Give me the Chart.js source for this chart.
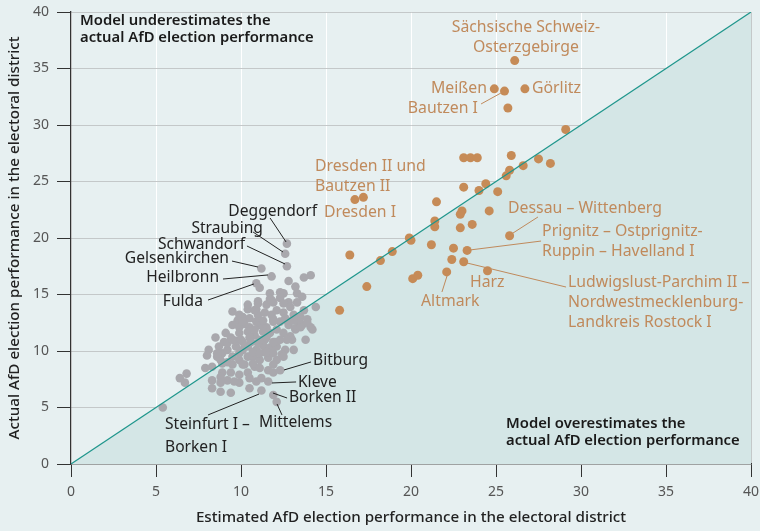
<!DOCTYPE html>
<html lang="en">
<head>
<meta charset="utf-8">
<title>AfD election performance: estimated vs actual</title>
<script src="https://cdn.jsdelivr.net/npm/chart.js"></script>
<style>
  html, body { margin: 0; padding: 0; background: #e7f0f1; }
  #wrap { width: 760px; height: 531px; }
</style>
</head>
<body>
<div id="wrap"><canvas id="afdChart" width="760" height="531"></canvas></div>
<script>
// West German districts (grey): estimated vs actual AfD share, %
const westEst = [12.7, 12.6, 12.7, 11.2, 11.8, 10.9, 11.1, 12.8, 13.7, 14.1, 11.7, 12.3, 12.5, 13.2, 13.3, 13.6, 11.0, 9.5, 10.4, 10.9,
  11.5, 11.9, 12.3, 12.8, 13.3, 13.7, 14.4, 9.8, 10.1, 10.5, 11.0, 11.4, 11.8, 12.5, 13.1, 13.5, 9.5, 9.9, 10.5, 11.1,
  11.5, 12.3, 12.8, 13.2, 13.6, 14.1, 14.2, 8.5, 9.1, 9.4, 9.9, 10.4, 10.8, 11.3, 11.7, 12.1, 12.5, 13.2, 13.8, 13.0,
  12.3, 8.1, 8.7, 8.9, 9.2, 9.7, 10.1, 10.4, 10.9, 11.3, 11.7, 12.1, 12.6, 13.1, 7.9, 8.3, 8.8, 9.2, 9.5, 9.9,
  10.4, 10.7, 11.1, 11.6, 12.1, 8.9, 9.4, 9.9, 10.4, 10.8, 11.1, 11.6, 11.9, 12.3, 6.4, 6.8, 6.7, 8.3, 8.8, 9.2,
  9.9, 10.5, 11.2, 11.6, 8.3, 8.8, 9.4, 10.5, 11.2, 11.9, 12.1, 5.4, 10.2, 10.8, 11.9, 12.0, 10.6, 11.4, 9.7, 12.6,
  13.4, 11.7, 10.4, 9.0, 12.9, 8.6, 10.2, 11.4, 13.9, 12.4, 10.0, 11.0, 9.9, 10.8, 11.0, 11.8, 12.1, 12.5, 12.9, 10.1,
  10.9, 11.3, 11.9, 12.7, 13.1, 13.5, 13.9, 9.2, 9.5, 10.1, 10.5, 11.1, 11.5, 11.9, 12.7, 9.9, 10.7, 11.1, 11.5, 11.9,
  12.5, 8.9, 9.5, 10.1, 10.7, 11.9, 8.0, 8.6, 9.6, 10.9, 8.8];
const westAct = [19.5, 18.6, 17.5, 17.3, 16.6, 16.0, 15.6, 16.2, 16.5, 16.7, 15.1, 15.2, 15.1, 15.7, 15.1, 14.8, 14.4, 13.5, 13.7, 13.7,
  14.1, 14.3, 14.7, 14.3, 14.3, 13.6, 13.9, 12.7, 13.0, 12.9, 13.2, 13.4, 13.2, 13.4, 13.2, 13.0, 12.3, 12.1, 12.1, 12.3,
  12.1, 12.6, 12.3, 12.0, 12.3, 12.1, 11.9, 11.2, 11.6, 11.2, 11.6, 11.7, 11.4, 11.7, 11.6, 11.9, 11.6, 11.9, 11.0, 11.0,
  11.0, 10.1, 10.4, 9.8, 10.1, 10.4, 10.1, 10.4, 10.1, 10.5, 10.3, 10.4, 10.1, 10.1, 8.5, 8.6, 9.2, 9.0, 9.5, 9.2,
  9.5, 9.5, 9.2, 9.4, 9.2, 8.1, 8.1, 7.9, 8.1, 8.6, 8.5, 8.3, 8.1, 8.3, 7.6, 8.0, 7.2, 7.4, 7.7, 7.4,
  7.2, 7.6, 7.6, 7.3, 6.7, 6.4, 6.3, 6.7, 6.5, 6.1, 5.5, 5.0, 12.4, 11.9, 12.8, 10.8, 10.8, 11.0, 10.9, 12.9,
  12.6, 14.6, 14.1, 10.8, 11.3, 9.5, 8.8, 9.9, 12.8, 9.7, 11.0, 10.7, 13.2, 13.6, 14.2, 14.5, 13.6, 14.2, 13.9, 12.6,
  12.6, 12.7, 12.6, 12.7, 12.7, 12.1, 12.5, 10.7, 11.0, 10.8, 11.2, 11.0, 11.2, 10.8, 11.0, 9.8, 9.9, 9.8, 9.9, 9.8,
  9.5, 8.9, 8.8, 8.8, 8.9, 8.8, 9.6, 9.8, 7.3, 7.3, 7.2];

// East German districts (orange)
const eastEst = [26.1, 24.9, 25.5, 26.7, 25.7, 29.1, 23.1, 23.5, 23.9, 25.9, 27.5, 28.2, 26.6, 25.8, 25.6, 24.4, 23.1, 24.0, 25.1, 16.7,
  17.2, 21.5, 23.0, 22.9, 24.6, 21.4, 21.4, 22.9, 23.6, 19.9, 20.0, 21.2, 25.8, 16.4, 18.2, 18.9, 22.5, 23.3, 22.4, 23.1,
  24.5, 22.1, 20.1, 20.4, 17.4, 15.8];
const eastAct = [35.7, 33.2, 33.0, 33.2, 31.5, 29.6, 27.1, 27.1, 27.1, 27.3, 27.0, 26.6, 26.4, 26.0, 25.5, 24.8, 24.5, 24.2, 24.1, 23.4,
  23.6, 23.2, 22.4, 22.1, 22.4, 21.5, 21.0, 20.9, 21.2, 20.0, 19.8, 19.4, 20.2, 18.5, 18.0, 18.8, 19.1, 18.9, 18.1, 17.9,
  17.1, 17.0, 16.4, 16.7, 15.7, 13.6];

const axisTicks = [0, 5, 10, 15, 20, 25, 30, 35, 40];

const xTitle = 'Estimated AfD election performance in the electoral district';
const yTitle = 'Actual AfD election performance in the electoral district';

// labels: text lines, anchor (data units), alignment, leader line (data units)
const westLabels = [
  { lines: ['Deggendorf'], x: 14.47, y: 22.3, align: 'right', line: [11.71, 21.77, 12.65, 19.65] },
  { lines: ['Straubing'], x: 11.29, y: 20.88, align: 'right', line: [10.71, 20.53, 12.47, 18.76] },
  { lines: ['Schwandorf'], x: 10.24, y: 19.38, align: 'right', line: [10.35, 19.29, 12.59, 17.7] },
  { lines: ['Gelsenkirchen'], x: 9.29, y: 18.14, align: 'right', line: [9.47, 17.96, 11.0, 17.43] },
  { lines: ['Heilbronn'], x: 8.71, y: 16.46, align: 'right', line: [8.94, 16.37, 11.59, 16.73] },
  { lines: ['Fulda'], x: 7.76, y: 14.34, align: 'right', line: [8.06, 14.51, 10.76, 15.93] },
  { lines: ['Bitburg'], x: 14.24, y: 9.12, align: 'left', line: [14.12, 9.03, 12.53, 8.32] },
  { lines: ['Kleve'], x: 13.35, y: 7.17, align: 'left', line: [13.24, 7.26, 11.82, 7.17] },
  { lines: ['Borken II'], x: 12.82, y: 5.84, align: 'left', line: [12.71, 5.84, 11.88, 6.28] },
  { lines: ['Mittelems'], x: 11.06, y: 3.63, align: 'left', line: [12.41, 4.34, 12.12, 5.31] },
  { lines: ['Steinfurt I –', 'Borken I'], x: 5.53, y: 3.45, align: 'left', line: [8.06, 4.34, 11.06, 6.19] }
];
const eastLabels = [
  { lines: ['Sächsische Schweiz-', 'Osterzgebirge'], x: 26.76, y: 38.67, align: 'center' },
  { lines: ['Meißen'], x: 24.47, y: 33.19, align: 'right' },
  { lines: ['Görlitz'], x: 27.12, y: 33.19, align: 'left' },
  { lines: ['Bautzen I'], x: 23.94, y: 31.5, align: 'right', line: [24.12, 31.86, 25.29, 32.83] },
  { lines: ['Dresden II und', 'Bautzen II'], x: 14.35, y: 26.37, align: 'left' },
  { lines: ['Dresden I'], x: 14.88, y: 22.3, align: 'left' },
  { lines: ['Dessau – Wittenberg'], x: 25.71, y: 22.65, align: 'left', line: [27.47, 21.86, 26.0, 20.44] },
  { lines: ['Prignitz – Ostprignitz-', 'Ruppin – Havelland I'], x: 27.71, y: 20.62, align: 'left', line: [27.65, 19.73, 23.47, 18.94] },
  { lines: ['Harz'], x: 23.47, y: 16.02, align: 'left' },
  { lines: ['Altmark'], x: 20.59, y: 14.42, align: 'left', line: [21.82, 15.22, 22.12, 16.64] },
  { lines: ['Ludwigslust-Parchim II –', 'Nordwestmecklenburg-', 'Landkreis Rostock I'], x: 29.24, y: 16.02, align: 'left', line: [29.12, 15.66, 23.29, 17.79] }
];
const regionLabels = [
  { lines: ['Model underestimates the', 'actual AfD election performance'], x: 0.53, y: 39.2, align: 'left' },
  { lines: ['Model overestimates the', 'actual AfD election performance'], x: 25.59, y: 3.54, align: 'left' }
];

const FONT = '"Noto Sans", "Open Sans", sans-serif';
const GREY = '#a9a8ad';
const ORANGE = '#c68b57';
const ORANGE_TXT = '#c08a5c';
const TEAL = '#1f968c';

function toPoints(xs, ys) {
  return xs.map((x, i) => ({ x: x, y: ys[i] }));
}

const labelPlugin = {
  id: 'labels',
  afterDatasetsDraw(chart) {
    const ctx = chart.ctx;
    const xs = chart.scales.x, ys = chart.scales.y;
    function drawSet(list, color, font, lineH) {
      ctx.save();
      ctx.fillStyle = color;
      ctx.strokeStyle = color;
      ctx.lineWidth = 1;
      ctx.font = font;
      ctx.textBaseline = 'middle';
      list.forEach(l => {
        if (l.line) {
          ctx.beginPath();
          ctx.moveTo(xs.getPixelForValue(l.line[0]), ys.getPixelForValue(l.line[1]));
          ctx.lineTo(xs.getPixelForValue(l.line[2]), ys.getPixelForValue(l.line[3]));
          ctx.stroke();
        }
        ctx.textAlign = l.align;
        const px = xs.getPixelForValue(l.x);
        const py = ys.getPixelForValue(l.y);
        l.lines.forEach((t, i) => ctx.fillText(t, px, py + i * lineH));
      });
      ctx.restore();
    }
    drawSet(westLabels, '#222', '15.6px ' + FONT, 23);
    drawSet(eastLabels, ORANGE_TXT, '15.8px ' + FONT, 20);
    drawSet(regionLabels, '#1a1a1a', '600 14.8px ' + FONT, 17);
  }
};

const config = {
  type: 'scatter',
  data: {
    datasets: [
      {
        type: 'line',
        data: toPoints([0, 40], [0, 40]),
        borderWidth: 0,
        pointRadius: 0,
        backgroundColor: '#d4e6e6',
        fill: 'origin',
        order: 4
      },
      {
        data: toPoints(westEst, westAct),
        backgroundColor: GREY,
        borderWidth: 0,
        pointRadius: 4.3,
        order: 3
      },
      {
        data: toPoints(eastEst, eastAct),
        backgroundColor: ORANGE,
        borderWidth: 0,
        pointRadius: 4.5,
        order: 2
      },
      {
        type: 'line',
        data: toPoints([0, 40], [0, 40]),
        borderColor: TEAL,
        borderWidth: 1.2,
        pointRadius: 0,
        fill: false,
        order: 1
      }
    ]
  },
  options: {
    responsive: false,
    animation: false,
    devicePixelRatio: 1,
    layout: { padding: { top: 12, right: 9, left: 0, bottom: 0 } },
    plugins: { legend: { display: false }, tooltip: { enabled: false } },
    scales: {
      x: {
        type: 'linear',
        min: 0, max: 40,
        afterFit: s => { s.height = 67; s.paddingLeft = 0; s.paddingRight = 0; },
        afterBuildTicks: s => { s.ticks = axisTicks.map(v => ({ value: v })); },
        grid: {
          color: c => (c.tick && c.tick.value === 40 ? '#c4c8c9' : '#ffffff'),
          tickColor: '#333',
          tickLength: 13,
          lineWidth: 1
        },
        border: { color: '#333', width: 1.3 },
        ticks: { color: '#555', font: { family: FONT, size: 14 }, padding: 7 },
        title: { display: true, text: xTitle, color: '#222', font: { family: FONT, size: 15.2, weight: '500' }, padding: { top: 1 } }
      },
      y: {
        type: 'linear',
        min: 0, max: 40,
        afterFit: s => { s.width = 71; s.paddingTop = 0; s.paddingBottom = 0; },
        afterBuildTicks: s => { s.ticks = axisTicks.map(v => ({ value: v })); },
        grid: {
          color: '#c4c8c9',
          tickColor: '#333',
          tickLength: 14,
          lineWidth: 1
        },
        border: { color: '#333', width: 1.3 },
        ticks: { color: '#555', font: { family: FONT, size: 14 }, padding: 8 },
        title: { display: true, text: yTitle, color: '#222', font: { family: FONT, size: 15.2, weight: '500' }, padding: { top: 6, bottom: 0 } }
      }
    }
  },
  plugins: [labelPlugin]
};

new Chart(document.getElementById('afdChart'), config);
</script>
</body>
</html>
